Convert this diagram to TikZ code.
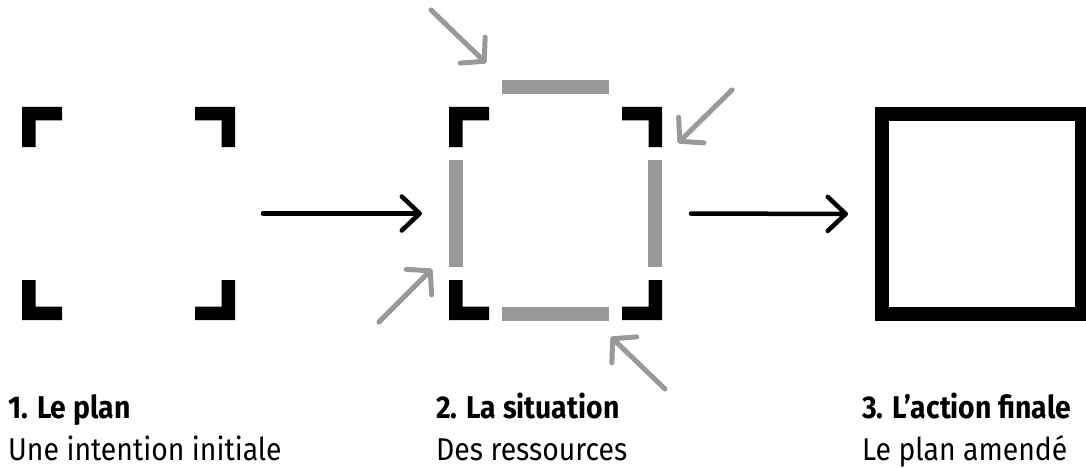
\documentclass[tikz,border=0pt]{standalone}
\usepackage{fontspec}
\setmainfont{Fira Sans}[FakeStretch=0.9]
\usetikzlibrary{arrows.meta}
\definecolor{lightgrey}{RGB}{153,153,153}
\tikzset{
  frame/.style={minimum size=213pt, inner sep=0pt, outer sep=0pt},
  flow/.style={line width=4.5pt, line cap=round, -{Straight Barb[length=18pt,width=34pt,round]}},
  feed/.style={lightgrey, line width=5pt, line cap=round, -{Straight Barb[length=16pt,width=36pt,round]}},
  title/.style={anchor=base west, inner sep=0pt, font=\fontsize{31.5}{38}\selectfont\bfseries},
  caption/.style={anchor=base west, inner sep=0pt, font=\fontsize{31.5}{38}\selectfont},
}
\begin{document}
\begin{tikzpicture}[x=1pt,y=1pt]
\useasboundingbox (0,0) rectangle (1086,-468);
\node[frame] (plan) at (128.5,-213.5) {};
\node[frame] (situation) at (555.5,-213.5) {};
\node[frame, minimum size=200pt, draw, line width=14pt, outer sep=7pt] (action) at (982,-214) {};

% coins des cadres
\foreach \n in {plan,situation}
  \foreach \a in {0,90,180,270}
  \fill[shift={(\n.center)},rotate=\a] (-106.5,106.5) -- ++(40,0) -- ++(0,-13.5)
    -- ++(-26.5,0) -- ++(0,-26.5) -- ++(-13.5,0) -- cycle;

% pieces grises
\fill[lightgrey] (502,-80) rectangle (609,-94);
\fill[lightgrey] (502,-307) rectangle (609,-321);
\fill[lightgrey] (449,-160) rectangle (463,-267);
\fill[lightgrey] (648,-160) rectangle (662,-267);

\coordinate (from1) at (431,-10);  \coordinate (to1) at (486,-63);
\coordinate (from2) at (732,-90);  \coordinate (to2) at (678,-143);
\coordinate (from3) at (379,-322); \coordinate (to3) at (432,-269);
\coordinate (from4) at (665,-389); \coordinate (to4) at (611,-337);
\foreach \i in {1,...,4}
  \draw[feed] (from\i) -- (to\i);

\draw[flow, shorten <=28pt, shorten >=27pt] (plan.east) -- (situation.west);
\draw[flow, shorten <=29pt, shorten >=27pt] (situation.east) -- (action.west);

\node[title] (plantitle) at (8,-418) {1. Le plan};
\node[caption] (plantext) at (8,-460) {Une intention initiale};
\node[title] (sittitle) at (436,-418) {2. La situation};
\node[caption] (sittext) at (436,-460) {Des ressources};
\node[title] (acttitle) at (862,-418) {3. L’action finale};
\node[caption] (acttext) at (862,-460) {Le plan amendé};
\end{tikzpicture}
\end{document}
